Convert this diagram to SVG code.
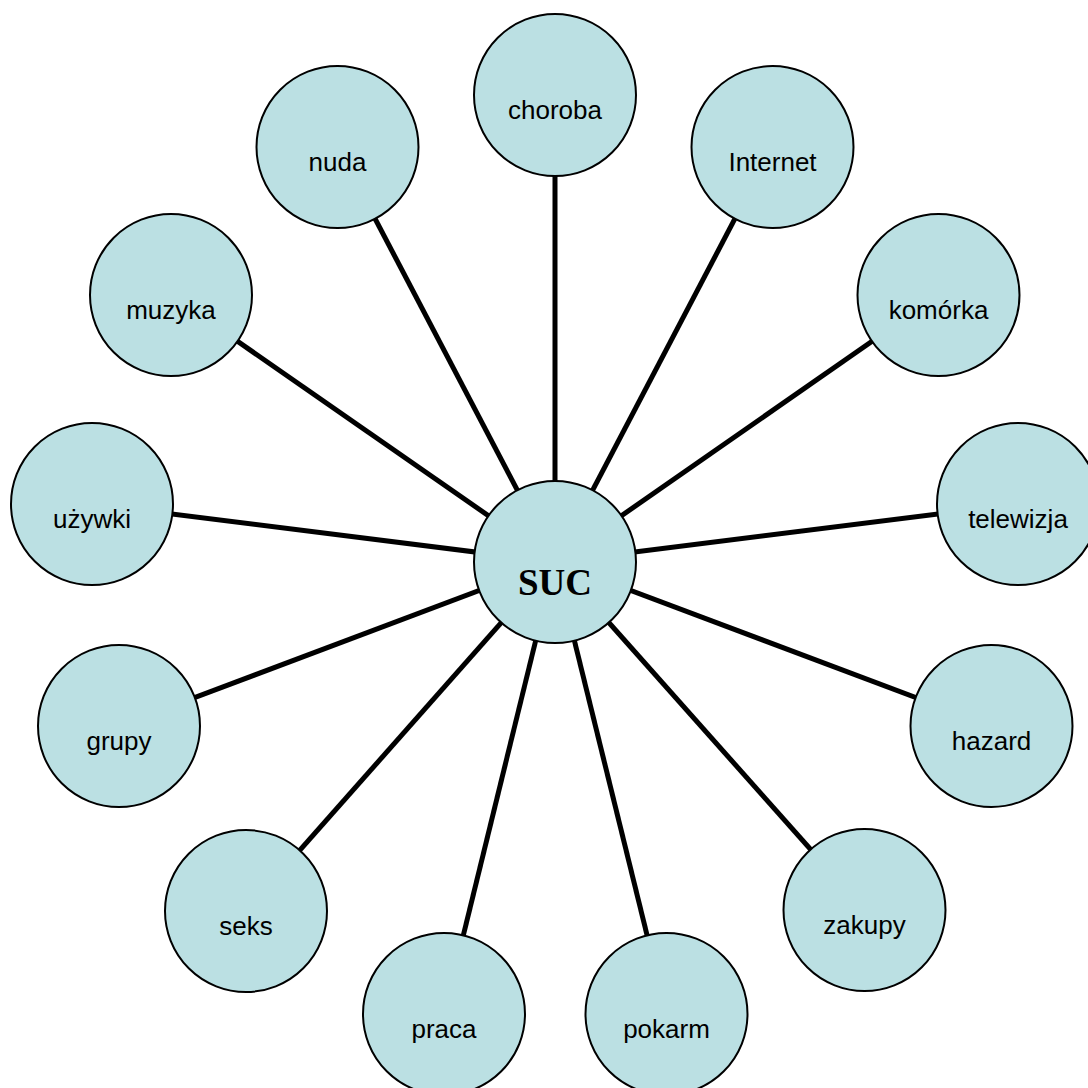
<svg xmlns="http://www.w3.org/2000/svg" width="1088" height="1088" viewBox="0 0 1088 1088">
<style>
.n circle{fill:#BBE0E3;stroke:#000;stroke-width:2}
.n text{font-family:"Liberation Sans",Arial,sans-serif;font-size:26px;fill:#000;text-anchor:middle}
.c line{stroke:#000;stroke-width:5}
#suc text{font-family:"Liberation Serif","Times New Roman",serif;font-size:37px;font-weight:bold}
</style>
<rect width="1088" height="1088" fill="#fff"/>
<g class="c" id="connectors">
<line x1="555" y1="562" x2="555" y2="95"/>
<line x1="555" y1="562" x2="772.5" y2="147"/>
<line x1="555" y1="562" x2="938.5" y2="295"/>
<line x1="555" y1="562" x2="1018" y2="504"/>
<line x1="555" y1="562" x2="991.5" y2="726"/>
<line x1="555" y1="562" x2="864.5" y2="910"/>
<line x1="555" y1="562" x2="666.5" y2="1014"/>
<line x1="555" y1="562" x2="444" y2="1014"/>
<line x1="555" y1="562" x2="246" y2="911"/>
<line x1="555" y1="562" x2="119" y2="726"/>
<line x1="555" y1="562" x2="92" y2="504"/>
<line x1="555" y1="562" x2="171" y2="295"/>
<line x1="555" y1="562" x2="337.5" y2="147"/>
</g>
<g class="n" id="choroba"><circle cx="555" cy="95" r="81"/><text x="555" y="119">choroba</text></g>
<g class="n" id="internet"><circle cx="772.5" cy="147" r="81"/><text x="772.5" y="171">Internet</text></g>
<g class="n" id="komorka"><circle cx="938.5" cy="295" r="81"/><text x="938.5" y="319">komórka</text></g>
<g class="n" id="telewizja"><circle cx="1018" cy="504" r="81"/><text x="1018" y="528">telewizja</text></g>
<g class="n" id="hazard"><circle cx="991.5" cy="726" r="81"/><text x="991.5" y="750">hazard</text></g>
<g class="n" id="zakupy"><circle cx="864.5" cy="910" r="81"/><text x="864.5" y="934">zakupy</text></g>
<g class="n" id="pokarm"><circle cx="666.5" cy="1014" r="81"/><text x="666.5" y="1038">pokarm</text></g>
<g class="n" id="praca"><circle cx="444" cy="1014" r="81"/><text x="444" y="1038">praca</text></g>
<g class="n" id="seks"><circle cx="246" cy="911" r="81"/><text x="246" y="935">seks</text></g>
<g class="n" id="grupy"><circle cx="119" cy="726" r="81"/><text x="119" y="750">grupy</text></g>
<g class="n" id="uzywki"><circle cx="92" cy="504" r="81"/><text x="92" y="528">używki</text></g>
<g class="n" id="muzyka"><circle cx="171" cy="295" r="81"/><text x="171" y="319">muzyka</text></g>
<g class="n" id="nuda"><circle cx="337.5" cy="147" r="81"/><text x="337.5" y="171">nuda</text></g>
<g class="n" id="suc"><circle cx="555" cy="562" r="81"/><text x="555" y="595">SUC</text></g>
</svg>
